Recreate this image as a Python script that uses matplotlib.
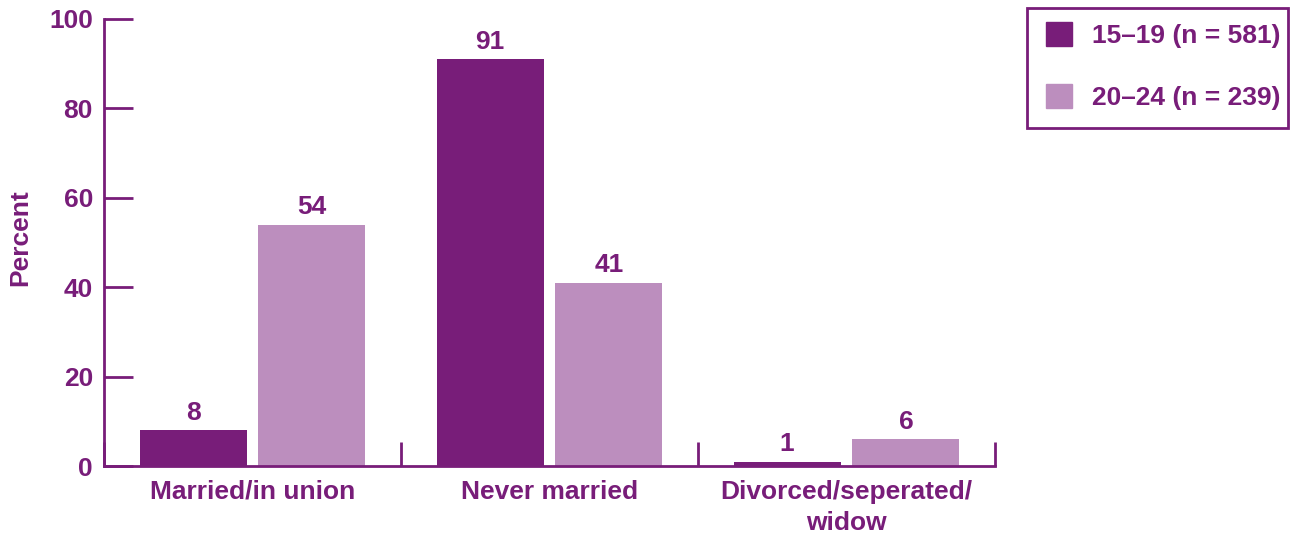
import matplotlib
matplotlib.use("Agg")
import matplotlib.pyplot as plt
import numpy as np
from matplotlib.patches import Patch, Rectangle

categories = ["Married/in union", "Never married", "Divorced/seperated/\nwidow"]
series_names = ["15\u201319 (n = 581)", "20\u201324 (n = 239)"]
values_15_19 = [8, 91, 1]
values_20_24 = [54, 41, 6]
yticks = [0, 20, 40, 60, 80, 100]

DARK = "#781D79"
LIGHT = "#BC8EBE"
TXT = "#781D79"

plt.rcParams['font.family'] = ['Liberation Sans', 'DejaVu Sans']
plt.rcParams['font.weight'] = 'bold'

W, H = 1293, 534
fig = plt.figure(figsize=(W / 100, H / 100), dpi=100)
left, right, top, bottom = 104, 995, 19, 466
ax = fig.add_axes([left / W, 1 - bottom / H, (right - left) / W, (bottom - top) / H])

x = np.arange(len(categories)) + 0.5
bw = 0.36
off = 0.2
b1 = ax.bar(x - off, values_15_19, bw, color=DARK, label=series_names[0])
b2 = ax.bar(x + off, values_20_24, bw, color=LIGHT, label=series_names[1])
for bars, vals in ((b1, values_15_19), (b2, values_20_24)):
    for r, v in zip(bars, vals):
        ax.text(r.get_x() + r.get_width() / 2, v + 1.2, f"{v}", ha='center', va='bottom',
                fontsize=19, fontweight='bold', color=TXT)

ax.set_xlim(0, 3)
ax.set_ylim(0, 100)
ax.set_yticks(yticks)
ax.set_yticklabels([str(t) for t in yticks])
ax.set_xticks([0, 1, 2, 3])
ax.set_xticklabels([])
ax.set_xticks(x, minor=True)
ax.set_xticklabels(categories, minor=True, linespacing=1.35)
ax.tick_params(axis='x', which='minor', length=0, pad=10, labelsize=19, labelcolor=TXT)
ax.tick_params(axis='x', which='major', direction='in', length=17, width=2, color=DARK)
ax.tick_params(axis='y', direction='in', length=21, width=2, color=DARK, labelsize=19,
               labelcolor=TXT, pad=8)
for lab in ax.get_xticklabels(minor=True) + ax.get_yticklabels():
    lab.set_fontweight('bold')
for s in ('top', 'right'):
    ax.spines[s].set_visible(False)
for s in ('left', 'bottom'):
    ax.spines[s].set_color(DARK)
    ax.spines[s].set_linewidth(2)

ax.set_ylabel("Percent", fontsize=19, fontweight='bold', color=TXT)
ax.yaxis.set_label_coords(-0.0805, 0.51)

# legend frame
fig.patches.append(Rectangle((1027 / W, 1 - 128 / H), (1288 - 1027) / W, (128 - 8) / H,
                             transform=fig.transFigure, fill=False, edgecolor=DARK,
                             linewidth=2, zorder=5))
handles = [Patch(color=DARK), Patch(color=LIGHT)]
leg = fig.legend(handles, series_names, loc='upper left',
                 bbox_to_anchor=(1046 / W, 1 - 22 / H), fontsize=19,
                 frameon=False, handlelength=1.0, handleheight=1.03,
                 labelspacing=1.35, borderpad=0, handletextpad=0.74, borderaxespad=0)
for t in leg.get_texts():
    t.set_color(TXT)
    t.set_fontweight('bold')

fig.savefig("out.png", dpi=100)
